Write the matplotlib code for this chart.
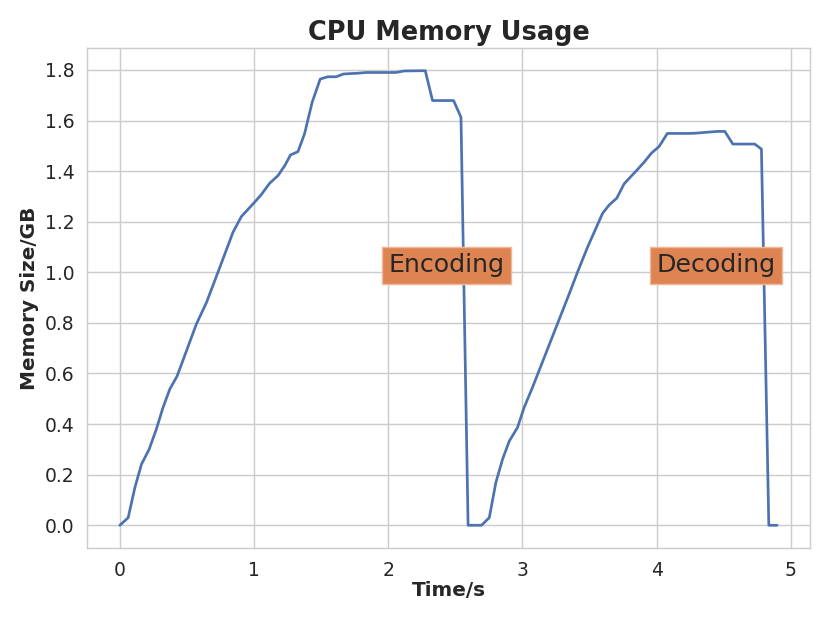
import matplotlib
matplotlib.use("Agg")
import matplotlib.pyplot as plt
import seaborn as sns

# время (с) и память (ГБ)
time_s = [0, 0.062, 0.112, 0.161, 0.218, 0.272, 0.322, 0.372, 0.427,
          0.57, 0.645, 0.731, 0.843, 0.905, 0.992, 1.054, 1.116, 1.178, 1.228,
          1.272, 1.327, 1.376, 1.433, 1.493, 1.55, 1.612, 1.667, 1.773, 1.835,
          2.058, 2.12, 2.276, 2.33, 2.487, 2.542, 2.595, 2.695, 2.753, 2.802,
          2.852, 2.902, 2.963, 3.013, 3.075, 3.348, 3.41, 3.485, 3.597, 3.646,
          3.703, 3.757, 3.807, 3.857, 3.906, 3.963, 4.018, 4.08, 4.243, 4.29,
          4.452, 4.508, 4.568, 4.731, 4.781, 4.836, 4.898]
memory_gb = [0, 0.03, 0.149, 0.241, 0.30, 0.38, 0.466, 0.538, 0.59,
             0.795, 0.88, 1.0, 1.158, 1.22, 1.27, 1.307, 1.352, 1.382, 1.421,
             1.464, 1.477, 1.547, 1.672, 1.764, 1.773, 1.773, 1.784, 1.787, 1.79,
             1.79, 1.796, 1.797, 1.679, 1.679, 1.613, 0, 0, 0.03, 0.169,
             0.261, 0.333, 0.386, 0.466, 0.545, 0.914, 1.0, 1.099, 1.233, 1.266,
             1.293, 1.349, 1.378, 1.406, 1.435, 1.472, 1.497, 1.549, 1.549, 1.55,
             1.557, 1.557, 1.507, 1.507, 1.487, 0, 0]

phase_labels = ["Encoding", "Decoding"]
phase_x = [2, 4]
phase_y = [1.0, 1.0]

sns.set_style("whitegrid")
colors = sns.color_palette("deep")

fig = plt.figure(figsize=(830 / 130, 623 / 130), dpi=130)
ax = fig.add_axes([0.1048, 0.1204, 0.8711, 0.8026])

ax.plot(time_s, memory_gb, color=colors[0], linewidth=1.5)

for lab, x, y in zip(phase_labels, phase_x, phase_y):
    ax.text(x, y, lab, fontsize=14, color="#262626",
            bbox=dict(facecolor=colors[1], edgecolor="#f0b898", linewidth=0.8,
                      boxstyle="square,pad=0.25"))

ax.set_yticks([0, 0.2, 0.4, 0.6, 0.8, 1.0, 1.2, 1.4, 1.6, 1.8])
ax.tick_params(labelsize=10.4, colors="#262626")
ax.set_title("CPU Memory Usage", fontsize=14.2, fontweight="bold", color="#262626", pad=4.5)
ax.set_xlabel("Time/s", fontsize=11.1, fontweight="bold", color="#262626", labelpad=1)
ax.set_ylabel("Memory Size/GB", fontsize=11.1, fontweight="bold", color="#262626", labelpad=3)

fig.savefig("out.png", dpi=130)
